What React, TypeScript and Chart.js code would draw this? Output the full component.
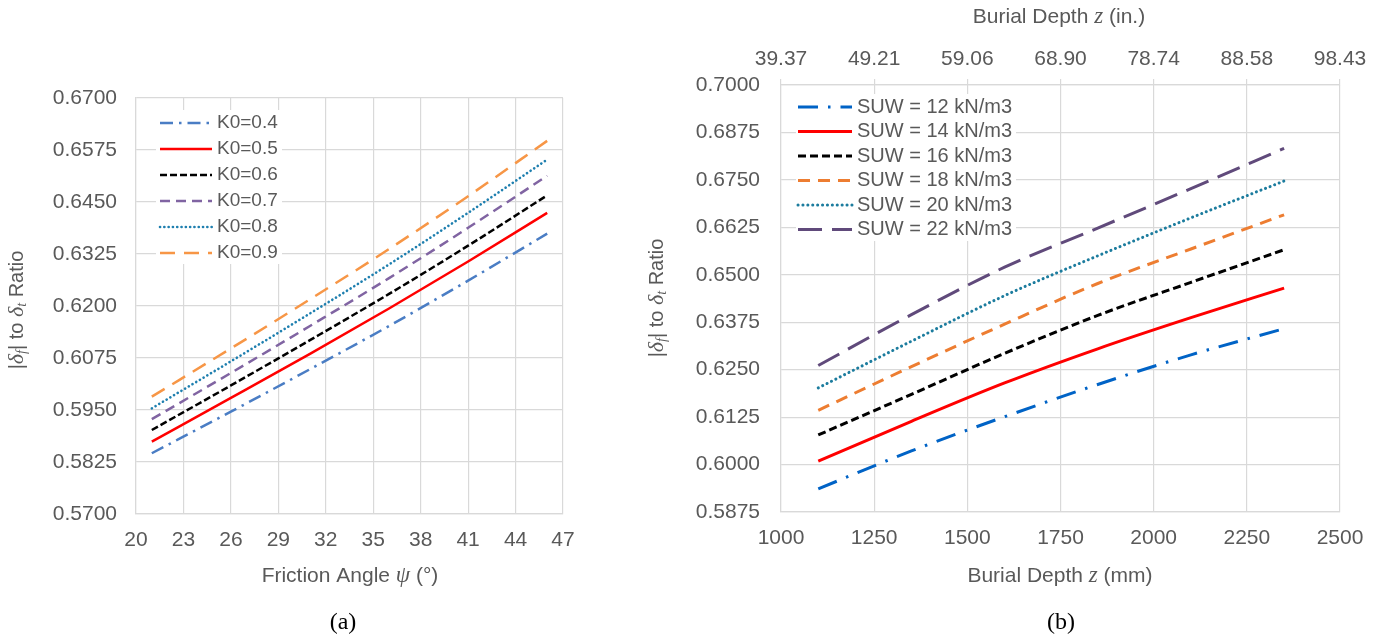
import React, { useEffect, useRef } from 'react';
import { Chart, registerables } from 'chart.js';

Chart.register(...registerables);

// ---------- Chart (a): ratio vs friction angle ----------
const FRICTION_ANGLES = [21, 26, 31, 36, 41, 46];
const K0_04 = [0.5846, 0.5946, 0.6048, 0.6152, 0.6261, 0.6374];
const K0_05 = [0.5874, 0.5979, 0.6085, 0.6194, 0.6307, 0.6424];
const K0_06 = [0.5902, 0.6009, 0.6118, 0.6229, 0.6345, 0.6466];
const K0_07 = [0.5928, 0.6039, 0.6152, 0.6267, 0.6388, 0.6513];
const K0_08 = [0.5954, 0.6067, 0.6182, 0.6300, 0.6424, 0.6552];
const K0_09 = [0.5982, 0.6098, 0.6216, 0.6337, 0.6464, 0.6597];
const A_SERIES_LABELS = ['K0=0.4', 'K0=0.5', 'K0=0.6', 'K0=0.7', 'K0=0.8', 'K0=0.9'];
const A_X_TICKS = [20, 23, 26, 29, 32, 35, 38, 41, 44, 47];
const A_Y_TICKS = [0.57, 0.5825, 0.595, 0.6075, 0.62, 0.6325, 0.645, 0.6575, 0.67];

// ---------- Chart (b): ratio vs burial depth ----------
const DEPTHS_MM = [1100, 1350, 1600, 1850, 2100, 2350];
const SUW_12 = [0.5936, 0.6036, 0.6126, 0.6211, 0.6289, 0.6358];
const SUW_14 = [0.6009, 0.6114, 0.6215, 0.6305, 0.6387, 0.6465];
const SUW_16 = [0.6078, 0.6185, 0.6293, 0.6393, 0.6480, 0.6566];
const SUW_18 = [0.6143, 0.6258, 0.6370, 0.6477, 0.6568, 0.6658];
const SUW_20 = [0.6202, 0.6325, 0.6445, 0.6550, 0.6650, 0.6747];
const SUW_22 = [0.6261, 0.6395, 0.6520, 0.6623, 0.6727, 0.6833];
const B_SERIES_LABELS = [
  'SUW = 12 kN/m3',
  'SUW = 14 kN/m3',
  'SUW = 16 kN/m3',
  'SUW = 18 kN/m3',
  'SUW = 20 kN/m3',
  'SUW = 22 kN/m3',
];
const B_X_TICKS = [1000, 1250, 1500, 1750, 2000, 2250, 2500];
const B_X_TICK_LABELS = ['1000', '1250', '1500', '1750', '2000', '2250', '2500'];
const B_TOP_TICK_LABELS = ['39.37', '49.21', '59.06', '68.90', '78.74', '88.58', '98.43'];
const B_Y_TICKS = [0.5875, 0.6, 0.6125, 0.625, 0.6375, 0.65, 0.6625, 0.675, 0.6875, 0.7];

const SANS = "'Liberation Sans', Arial, sans-serif";
const SERIF = "'Liberation Serif', 'Times New Roman', serif";
const TEXT = '#595959';
const GRID = '#d9d9d9';

type Seg = { t: string; f: string; dy?: number };

function drawRich(ctx: CanvasRenderingContext2D, segs: Seg[], cx: number, cy: number, rot: boolean) {
  ctx.save();
  ctx.translate(cx, cy);
  if (rot) ctx.rotate(-Math.PI / 2);
  ctx.textBaseline = 'middle';
  ctx.textAlign = 'left';
  ctx.fillStyle = TEXT;
  const widths = segs.map((s) => {
    ctx.font = s.f;
    return ctx.measureText(s.t).width;
  });
  const total = widths.reduce((a, b) => a + b, 0);
  let x = -total / 2;
  segs.forEach((s, i) => {
    ctx.font = s.f;
    ctx.fillText(s.t, x, s.dy || 0);
    x += widths[i];
  });
  ctx.restore();
}

const sans = (n: number) => `${n}px ${SANS}`;
const ital = (n: number) => `italic ${n}px ${SERIF}`;

const yTitleSegs: Seg[] = [
  { t: '|', f: sans(20) },
  { t: 'δ', f: ital(22) },
  { t: 'f', f: ital(14), dy: 5 },
  { t: '|', f: sans(20) },
  { t: ' to ', f: sans(20) },
  { t: 'δ', f: ital(22) },
  { t: 't', f: ital(14), dy: 5 },
  { t: ' Ratio', f: sans(20) },
];

type Overlay = {
  box: [number, number, number, number];
  x1: number;
  x2: number;
  tx: number;
  y0: number;
  dy: number;
  legendFont: number;
  titles: { segs: Seg[]; x: number; y: number; rot: boolean }[];
  caption: { t: string; x: number; y: number };
};

function overlayPlugin(o: Overlay) {
  return {
    id: 'overlay',
    afterDraw(chart: any) {
      const ctx: CanvasRenderingContext2D = chart.ctx;
      ctx.save();
      ctx.fillStyle = '#ffffff';
      ctx.fillRect(o.box[0], o.box[1], o.box[2] - o.box[0], o.box[3] - o.box[1]);
      chart.data.datasets.forEach((ds: any, i: number) => {
        const y = o.y0 + i * o.dy;
        ctx.save();
        ctx.strokeStyle = ds.borderColor;
        ctx.lineWidth = ds.borderWidth;
        ctx.setLineDash(ds.borderDash || []);
        ctx.lineCap = ds.borderCapStyle || 'butt';
        ctx.beginPath();
        ctx.moveTo(o.x1, y);
        ctx.lineTo(o.x2, y);
        ctx.stroke();
        ctx.setLineDash([]);
        ctx.fillStyle = TEXT;
        ctx.font = sans(o.legendFont);
        ctx.textBaseline = 'middle';
        ctx.textAlign = 'left';
        ctx.fillText(ds.label, o.tx, y);
        ctx.restore();
      });
      o.titles.forEach((t) => drawRich(ctx, t.segs, t.x, t.y, t.rot));
      ctx.fillStyle = '#000000';
      ctx.font = `24px ${SERIF}`;
      ctx.textAlign = 'center';
      ctx.textBaseline = 'middle';
      ctx.fillText(o.caption.t, o.caption.x, o.caption.y);
      ctx.restore();
    },
  };
}

function ds(label: string, xs: number[], ys: number[], color: string, dash: number[], width: number, cap: string = 'butt') {
  return {
    label,
    data: xs.map((x, i) => ({ x, y: ys[i] })),
    borderColor: color,
    backgroundColor: color,
    borderWidth: width,
    borderDash: dash,
    borderCapStyle: cap,
    pointRadius: 0,
    fill: false,
    cubicInterpolationMode: 'monotone',
  };
}

const tickFont = { family: SANS, size: 21 };

function makeA(): any {
  return {
    type: 'line',
    data: {
      datasets: [
        ds(A_SERIES_LABELS[0], FRICTION_ANGLES, K0_04, '#4a7dc4', [13, 6, 2.5, 6], 2.5),
        ds(A_SERIES_LABELS[1], FRICTION_ANGLES, K0_05, '#ff0000', [], 2.5),
        ds(A_SERIES_LABELS[2], FRICTION_ANGLES, K0_06, '#000000', [7, 3], 2.5),
        ds(A_SERIES_LABELS[3], FRICTION_ANGLES, K0_07, '#8064a2', [10, 6], 2.5),
        ds(A_SERIES_LABELS[4], FRICTION_ANGLES, K0_08, '#1e7faf', [0.1, 4.2], 2.6, 'round'),
        ds(A_SERIES_LABELS[5], FRICTION_ANGLES, K0_09, '#f79646', [15, 9], 2.5),
      ],
    },
    options: {
      responsive: false,
      animation: false,
      devicePixelRatio: 1,
      layout: { padding: { top: 98, right: 77, bottom: 0, left: 0 } },
      plugins: { legend: { display: false }, tooltip: { enabled: false } },
      scales: {
        x: {
          type: 'linear',
          min: 20,
          max: 47,
          afterBuildTicks: (s: any) => {
            s.ticks = A_X_TICKS.map((v) => ({ value: v }));
          },
          afterFit: (s: any) => {
            s.height = 126;
          },
          ticks: { font: tickFont, color: TEXT, padding: 14, maxRotation: 0, autoSkip: false },
          grid: { color: GRID, lineWidth: 1.2, drawTicks: false },
          border: { display: true, color: GRID, width: 1.2 },
        },
        y: {
          type: 'linear',
          min: 0.57,
          max: 0.67,
          afterBuildTicks: (s: any) => {
            s.ticks = A_Y_TICKS.map((v) => ({ value: v }));
          },
          afterFit: (s: any) => {
            s.width = 136;
          },
          ticks: {
            font: tickFont,
            color: TEXT,
            padding: 19,
            autoSkip: false,
            callback: (v: any) => Number(v).toFixed(4),
          },
          grid: { color: GRID, lineWidth: 1.2, drawTicks: false },
          border: { display: true, color: GRID, width: 1.2 },
        },
      },
    },
    plugins: [
      overlayPlugin({
        box: [156, 110, 282, 264],
        x1: 160,
        x2: 212,
        tx: 217,
        y0: 123,
        dy: 26,
        legendFont: 19,
        titles: [
          { segs: yTitleSegs, x: 17, y: 310, rot: true },
          {
            segs: [
              { t: 'Friction Angle ', f: sans(21) },
              { t: 'ψ', f: ital(23) },
              { t: ' (°)', f: sans(21) },
            ],
            x: 350,
            y: 576,
            rot: false,
          },
        ],
        caption: { t: '(a)', x: 343, y: 623 },
      }),
    ],
  };
}

function makeB(): any {
  return {
    type: 'line',
    data: {
      datasets: [
        ds(B_SERIES_LABELS[0], DEPTHS_MM, SUW_12, '#0063c6', [20, 10, 2.5, 10], 3),
        ds(B_SERIES_LABELS[1], DEPTHS_MM, SUW_14, '#ff0000', [], 3),
        ds(B_SERIES_LABELS[2], DEPTHS_MM, SUW_16, '#000000', [8, 4], 3),
        ds(B_SERIES_LABELS[3], DEPTHS_MM, SUW_18, '#ed7d31', [12, 8], 3),
        ds(B_SERIES_LABELS[4], DEPTHS_MM, SUW_20, '#1c7c9e', [0.1, 4.8], 3, 'round'),
        ds(B_SERIES_LABELS[5], DEPTHS_MM, SUW_22, '#604a7b', [24, 10], 3),
      ],
    },
    options: {
      responsive: false,
      animation: false,
      devicePixelRatio: 1,
      layout: { padding: { top: 0, right: 43, bottom: 0, left: 0 } },
      plugins: { legend: { display: false }, tooltip: { enabled: false } },
      scales: {
        x: {
          type: 'linear',
          position: 'bottom',
          min: 1000,
          max: 2500,
          afterBuildTicks: (s: any) => {
            s.ticks = B_X_TICKS.map((v) => ({ value: v }));
          },
          afterFit: (s: any) => {
            s.height = 128;
          },
          ticks: {
            font: tickFont,
            color: TEXT,
            padding: 14,
            maxRotation: 0,
            autoSkip: false,
            callback: (_v: any, i: number) => B_X_TICK_LABELS[i],
          },
          grid: { color: GRID, lineWidth: 1.2, drawTicks: false },
          border: { display: true, color: GRID, width: 1.2 },
        },
        x2: {
          type: 'linear',
          position: 'top',
          min: 1000,
          max: 2500,
          afterBuildTicks: (s: any) => {
            s.ticks = B_X_TICKS.map((v) => ({ value: v }));
          },
          afterFit: (s: any) => {
            s.height = 85;
          },
          ticks: {
            font: tickFont,
            color: TEXT,
            padding: 7,
            maxRotation: 0,
            autoSkip: false,
            callback: (_v: any, i: number) => B_TOP_TICK_LABELS[i],
          },
          grid: { color: GRID, lineWidth: 1.2, drawOnChartArea: false, drawTicks: true, tickLength: 6 },
          border: { display: true, color: GRID, width: 1.2 },
        },
        y: {
          type: 'linear',
          min: 0.5875,
          max: 0.7,
          afterBuildTicks: (s: any) => {
            s.ticks = B_Y_TICKS.map((v) => ({ value: v }));
          },
          afterFit: (s: any) => {
            s.width = 141;
          },
          ticks: {
            font: tickFont,
            color: TEXT,
            padding: 21,
            autoSkip: false,
            callback: (v: any) => Number(v).toFixed(4),
          },
          grid: { color: GRID, lineWidth: 1.2, drawTicks: false },
          border: { display: true, color: GRID, width: 1.2 },
        },
      },
    },
    plugins: [
      overlayPlugin({
        box: [156, 94, 376, 241],
        x1: 158,
        x2: 212,
        tx: 217,
        y0: 107,
        dy: 24.5,
        legendFont: 20,
        titles: [
          { segs: yTitleSegs, x: 17, y: 298, rot: true },
          {
            segs: [
              { t: 'Burial Depth ', f: sans(21) },
              { t: 'z', f: ital(23) },
              { t: ' (mm)', f: sans(21) },
            ],
            x: 420,
            y: 576,
            rot: false,
          },
          {
            segs: [
              { t: 'Burial Depth ', f: sans(21) },
              { t: 'z', f: ital(23) },
              { t: ' (in.)', f: sans(21) },
            ],
            x: 419,
            y: 17,
            rot: false,
          },
        ],
        caption: { t: '(b)', x: 421, y: 623 },
      }),
    ],
  };
}

function ChartCanvas({ left, width, height, make }: { left: number; width: number; height: number; make: () => any }) {
  const ref = useRef<HTMLCanvasElement>(null);
  useEffect(() => {
    const chart = new Chart(ref.current as HTMLCanvasElement, make());
    return () => chart.destroy();
  }, []);
  return (
    <canvas
      ref={ref}
      width={width}
      height={height}
      style={{ position: 'absolute', left, top: 0, width, height, display: 'block' }}
    />
  );
}

export default function App() {
  return (
    <div style={{ position: 'absolute', left: 0, top: 0, width: 1383, height: 640, background: '#ffffff', overflow: 'hidden' }}>
      <ChartCanvas left={0} width={640} height={640} make={makeA} />
      <ChartCanvas left={640} width={743} height={640} make={makeB} />
    </div>
  );
}
